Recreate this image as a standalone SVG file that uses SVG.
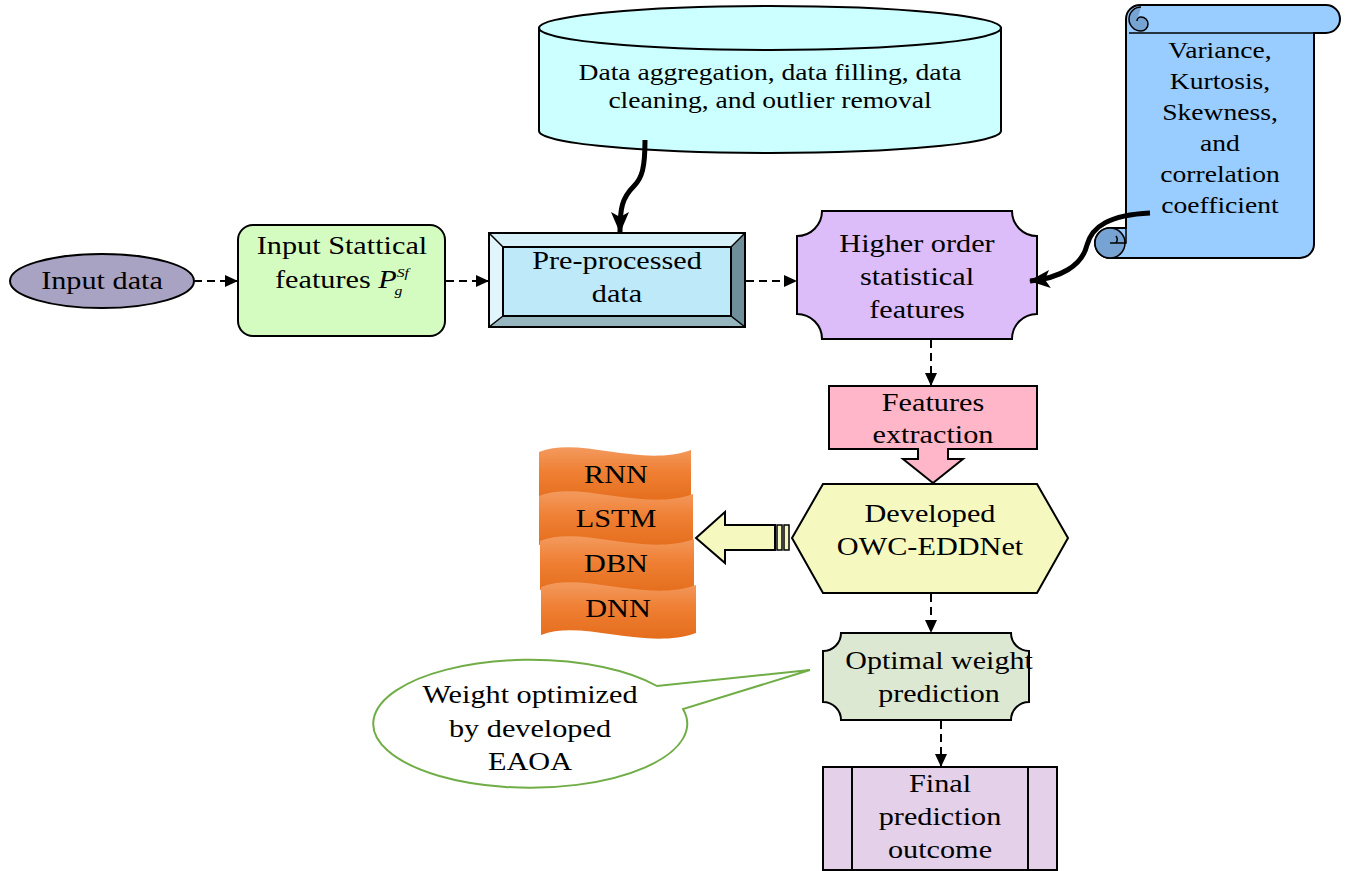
<svg xmlns="http://www.w3.org/2000/svg" width="1355" height="871" viewBox="0 0 1355 871">
<defs>
<style>
.t{font-family:"Liberation Serif","Times New Roman",serif;font-size:25px;fill:#000;text-anchor:middle}
.ts{font-family:"Liberation Serif","Times New Roman",serif;font-size:23px;fill:#000;text-anchor:middle}
.nd{stroke:#000;stroke-width:2}
.dash{fill:none;stroke:#000;stroke-width:2;stroke-dasharray:8 5}
.thick{fill:none;stroke:#000;stroke-width:5;stroke-linecap:butt}
</style>
<marker id="ah" markerUnits="userSpaceOnUse" markerWidth="14" markerHeight="14" refX="12" refY="7" orient="auto">
<path d="M0,1 L13,7 L0,13 Z" fill="#000"/>
</marker>
<marker id="ahb" markerUnits="userSpaceOnUse" markerWidth="22" markerHeight="20" refX="20" refY="10" orient="auto">
<path d="M0,1 L21,10 L0,19 L5,10 Z" fill="#000"/>
</marker>
<linearGradient id="og" x1="0" y1="0" x2="0" y2="1">
<stop offset="0" stop-color="#f39a5e"/>
<stop offset="0.45" stop-color="#ef7f33"/>
<stop offset="1" stop-color="#e46d1c"/>
</linearGradient>
</defs>
<rect width="1355" height="871" fill="#fff"/>

<g id="input-data">
<ellipse class="nd" cx="102" cy="281" rx="92" ry="27" fill="#a9a3c3"/>
<text class="t" transform="translate(102 0) scale(1.21 1)" x="0" y="289">Input data</text>
</g>

<g id="input-statistical">
<rect class="nd" x="238" y="225" width="207" height="111" rx="15" fill="#d5fcc0"/>
<text class="t" transform="translate(342 0) scale(1.21 1)" x="0" y="254">Input Stattical</text>
<text class="t" transform="translate(342 0) scale(1.21 1)" x="0" y="288">features <tspan font-style="italic">P</tspan><tspan font-style="italic" font-size="13" dy="-11">Sf</tspan><tspan font-style="italic" font-size="13" dx="-12" dy="18">g</tspan></text>
</g>

<g id="preprocessed">
<rect x="489" y="233" width="256" height="94" fill="#bde9f8" stroke="none"/>
<polygon points="489,233 745,233 731,247 503,247" fill="#d6f0f8"/>
<polygon points="489,233 503,247 503,316 489,327" fill="#e2f5fb"/>
<polygon points="745,233 745,327 731,316 731,247" fill="#6e8f99"/>
<polygon points="489,327 745,327 731,316 503,316" fill="#96b6c0"/>
<rect x="503" y="247" width="228" height="69" fill="#bde9f8" class="nd"/>
<rect x="489" y="233" width="256" height="94" fill="none" class="nd"/>
<line x1="489" y1="233" x2="503" y2="247" stroke="#000" stroke-width="1.5"/>
<line x1="745" y1="233" x2="731" y2="247" stroke="#000" stroke-width="1.5"/>
<line x1="489" y1="327" x2="503" y2="316" stroke="#000" stroke-width="1.5"/>
<line x1="745" y1="327" x2="731" y2="316" stroke="#000" stroke-width="1.5"/>
<text class="t" transform="translate(617 0) scale(1.21 1)" x="0" y="269">Pre-processed</text>
<text class="t" transform="translate(617 0) scale(1.21 1)" x="0" y="302">data</text>
</g>

<g id="cylinder">
<path class="nd" d="M539,28 L539,131 A231,22 0 0 0 1001,131 L1001,28 Z" fill="#ccffff"/>
<ellipse class="nd" cx="770" cy="28" rx="231" ry="22" fill="#ccffff"/>
<text class="ts" transform="translate(770 0) scale(1.2 1)" x="0" y="80">Data aggregation, data filling, data</text>
<text class="ts" transform="translate(770 0) scale(1.2 1)" x="0" y="108">cleaning, and outlier removal</text>
</g>

<g id="higher-order">
<path class="nd" fill="#dcbcf9" d="M822,211 L1012,211 A25,25 0 0 0 1037,236 L1037,314 A25,25 0 0 0 1012,339 L822,339 A25,25 0 0 0 797,314 L797,236 A25,25 0 0 0 822,211 Z"/>
<text class="t" transform="translate(917 0) scale(1.21 1)" x="0" y="252">Higher order</text>
<text class="t" transform="translate(917 0) scale(1.21 1)" x="0" y="285">statistical</text>
<text class="t" transform="translate(917 0) scale(1.21 1)" x="0" y="318">features</text>
</g>

<g id="scroll">
<path class="nd" fill="#99ccff" d="M1126,19 A14,14 0 0 1 1140,5 L1326,5 A14,14 0 0 1 1326,33 L1314,33 L1314,244 A14,14 0 0 1 1300,258 L1110,258 A15,15 0 0 1 1110,228 L1126,228 Z"/>
<path d="M1141,7 A12,12 0 0 0 1141,31 L1141,31 A7,7 0 0 0 1141,17 A4,4 0 0 0 1137,21" fill="#77a3d2" stroke="#000" stroke-width="1.5"/>
<path d="M1129,33 L1326,33" fill="none" stroke="#000" stroke-width="1.5"/>
<circle cx="1110" cy="243" r="15" fill="#77a3d2" stroke="#000" stroke-width="1.5"/>
<path d="M1110,243 L1126,243 L1126,228 M1116,236 A6,6 0 0 1 1116,243" fill="none" stroke="#000" stroke-width="1.5"/>
<text class="ts" transform="translate(1220 0) scale(1.2 1)" x="0" y="58">Variance,</text>
<text class="ts" transform="translate(1220 0) scale(1.2 1)" x="0" y="89">Kurtosis,</text>
<text class="ts" transform="translate(1220 0) scale(1.2 1)" x="0" y="120">Skewness,</text>
<text class="ts" transform="translate(1220 0) scale(1.2 1)" x="0" y="151">and</text>
<text class="ts" transform="translate(1220 0) scale(1.2 1)" x="0" y="182">correlation</text>
<text class="ts" transform="translate(1220 0) scale(1.2 1)" x="0" y="213">coefficient</text>
</g>

<g id="features-extraction">
<path class="nd" fill="#ffb6c8" d="M829,386 L1037,386 L1037,449 L948,449 L948,459 L963,459 L933,483 L903,459 L918,459 L918,449 L829,449 Z"/>
<text class="t" transform="translate(933 0) scale(1.21 1)" x="0" y="411">Features</text>
<text class="t" transform="translate(933 0) scale(1.21 1)" x="0" y="443">extraction</text>
</g>

<g id="owc-eddnet">
<polygon class="nd" fill="#f5f9c0" points="823,484 1037,484 1068,538 1037,593 823,593 792,538"/>
<text class="t" transform="translate(930 0) scale(1.21 1)" x="0" y="522">Developed</text>
<text class="t" transform="translate(930 0) scale(1.21 1)" x="0" y="555">OWC-EDDNet</text>
</g>

<g id="block-arrow">
<polygon class="nd" fill="#f5f9c0" points="696,538 725,512 725,525 775,525 775,550 725,550 725,563"/>
<rect x="777" y="525" width="5" height="25" fill="#f5f9c0" stroke="#000" stroke-width="1.5"/>
<rect x="784" y="525" width="5" height="25" fill="#f5f9c0" stroke="#000" stroke-width="1.5"/>
</g>

<g id="models">
<path fill="url(#og)" d="M539,452 C580,436 640,468 691,450 L691,497 C640,515 580,483 539,499 Z"/>
<path fill="url(#og)" d="M539,496 C580,480 642,512 693,494 L693,543 C642,561 580,529 539,545 Z"/>
<path fill="url(#og)" d="M540,541 C581,525 643,557 694,539 L694,588 C643,606 581,574 540,590 Z"/>
<path fill="url(#og)" d="M541,587 C582,571 645,603 696,585 L696,633 C645,651 582,619 541,635 Z"/>
<text class="t" transform="translate(616 0) scale(1.21 1)" x="0" y="483">RNN</text>
<text class="t" transform="translate(616 0) scale(1.21 1)" x="0" y="527">LSTM</text>
<text class="t" transform="translate(616 0) scale(1.21 1)" x="0" y="572">DBN</text>
<text class="t" transform="translate(618 0) scale(1.21 1)" x="0" y="617">DNN</text>
</g>

<g id="optimal-weight">
<path class="nd" fill="#dde8d2" d="M841,633 L1011,633 A18,18 0 0 0 1029,651 L1029,702 A18,18 0 0 0 1011,720 L841,720 A18,18 0 0 0 823,702 L823,651 A18,18 0 0 0 841,633 Z"/>
<text class="t" transform="translate(939 0) scale(1.2 1)" x="0" y="669">Optimal weight</text>
<text class="t" transform="translate(939 0) scale(1.2 1)" x="0" y="702">prediction</text>
</g>

<g id="callout">
<path fill="#fff" stroke="#70ad47" stroke-width="2" d="M683,709 A157,64 0 1 1 657,686 L810,670 Z"/>
<text class="t" transform="translate(530 0) scale(1.21 1)" x="0" y="703">Weight optimized</text>
<text class="t" transform="translate(530 0) scale(1.21 1)" x="0" y="737">by developed</text>
<text class="t" transform="translate(530 0) scale(1.21 1)" x="0" y="770">EAOA</text>
</g>

<g id="final-outcome">
<rect class="nd" x="823" y="767" width="234" height="103" fill="#e4d0e8"/>
<line x1="852" y1="767" x2="852" y2="870" stroke="#000" stroke-width="2"/>
<line x1="1028" y1="767" x2="1028" y2="870" stroke="#000" stroke-width="2"/>
<text class="t" transform="translate(940 0) scale(1.21 1)" x="0" y="792">Final</text>
<text class="t" transform="translate(940 0) scale(1.21 1)" x="0" y="825">prediction</text>
<text class="t" transform="translate(940 0) scale(1.21 1)" x="0" y="858">outcome</text>
</g>

<g id="connectors">
<line class="dash" x1="194" y1="281" x2="237" y2="281" marker-end="url(#ah)"/>
<line class="dash" x1="446" y1="281" x2="488" y2="281" marker-end="url(#ah)"/>
<line class="dash" x1="746" y1="281" x2="796" y2="281" marker-end="url(#ah)"/>
<line class="dash" x1="931" y1="340" x2="931" y2="385" marker-end="url(#ah)"/>
<line class="dash" x1="931" y1="594" x2="931" y2="632" marker-end="url(#ah)"/>
<line class="dash" x1="941" y1="721" x2="941" y2="766" marker-end="url(#ah)"/>
<path class="thick" d="M645,140 C645,168 642,178 634,186 C622,198 620,208 620,232" marker-end="url(#ahb)"/>
<path class="thick" d="M1150,213 C1110,215 1092,226 1087,245 C1082,266 1060,278 1030,281" marker-end="url(#ahb)"/>
</g>
</svg>
